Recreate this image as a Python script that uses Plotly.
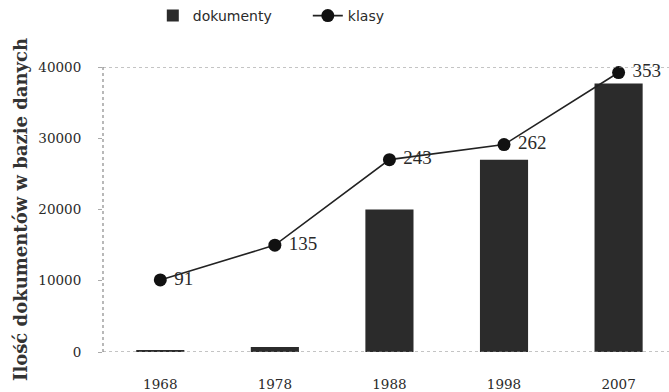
import plotly.graph_objects as go

# Number of documents and classes in the database per year
years = ["1968", "1978", "1988", "1998", "2007"]
dokumenty = [200, 700, 20000, 27000, 37700]
klasy = [91, 135, 243, 262, 353]
y_ticks = [0, 10000, 20000, 30000, 40000]
y_tick_labels = ["0", "10000", "20000", "30000", "40000"]

serif = "DejaVu Serif"
ink = "#2a2a2a"

fig = go.Figure()

fig.add_trace(go.Bar(
    x=years, y=dokumenty, name="dokumenty",
    marker=dict(color="#2b2b2b", line=dict(width=0)),
    width=0.42,
))

fig.add_trace(go.Scatter(
    x=years, y=klasy, name="klasy", yaxis="y2",
    mode="lines+markers+text",
    line=dict(color="#222222", width=1.6),
    marker=dict(color="#111111", size=13),
    text=[" " + str(v) for v in klasy],
    textposition="middle right",
    textfont=dict(family="Liberation Serif", size=19, color=ink),
    cliponaxis=False,
))

# dashed frame lines: baseline, top line and left axis
frame = dict(color="#8a8a8a", width=1.2, dash="dot")
fig.add_shape(type="line", xref="paper", yref="y", x0=0, x1=1, y0=0, y1=0, line=frame)
fig.add_shape(type="line", xref="paper", yref="y", x0=0, x1=1, y0=40000, y1=40000, line=frame)
fig.add_shape(type="line", xref="paper", yref="paper", x0=0, x1=0, y0=0, y1=1, line=frame)

fig.update_layout(
    width=669, height=392,
    margin=dict(l=103, r=0, t=67, b=40),
    paper_bgcolor="white", plot_bgcolor="white",
    showlegend=True,
    legend=dict(
        orientation="h", x=0.088, xanchor="left", y=1.18, yanchor="middle",
        font=dict(family="DejaVu Sans", size=14, color=ink),
        itemwidth=30, entrywidth=110, bgcolor="rgba(0,0,0,0)",
    ),
    xaxis=dict(
        type="category", range=[-0.5, 4.44],
        showgrid=False, showline=False, zeroline=False, ticks="",
        tickfont=dict(family=serif, size=13.5, color=ink),
        ticklabelstandoff=22,
    ),
    yaxis=dict(
        range=[0, 40000], tickvals=y_ticks, ticktext=y_tick_labels,
        showgrid=False, showline=False, zeroline=False,
        ticks="outside", ticklen=4, tickcolor="#aaaaaa",
        tickfont=dict(family=serif, size=13.5, color=ink),
        ticklabelstandoff=14,
        title=dict(text="Ilość dokumentów w bazie danych",
                   font=dict(family=serif, size=18, color="#333333", weight="bold"),
                   standoff=6),
    ),
    yaxis2=dict(
        range=[0, 360], overlaying="y", side="right",
        visible=False, showgrid=False, zeroline=False,
    ),
)

fig.write_html("out.html")
